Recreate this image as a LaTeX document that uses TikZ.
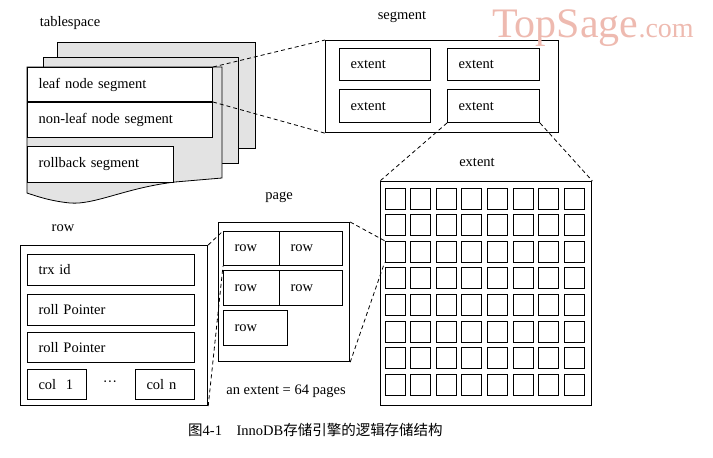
\documentclass[tikz,border=0pt]{standalone}
\usepackage{fontspec}
\setmainfont{Liberation Serif}
\newfontfamily\cjk{Noto Sans CJK SC}
\usetikzlibrary{positioning}
\definecolor{speckle}{gray}{0.89}
\definecolor{stamp}{RGB}{238,186,176}
\newcommand{\figfont}{\fontsize{14.5pt}{17pt}\selectfont}
\tikzset{
  fbox/.style={draw, line width=1pt, fill=white, anchor=north west,
    inner xsep=11pt, inner ysep=0pt, align=left, font=\figfont},
  frame/.style={draw, line width=1.2pt, anchor=north west, inner sep=0pt},
  cell/.style={draw, line width=1pt, minimum width=20pt, minimum height=21pt, inner sep=0pt},
  sheet/.style={draw, line width=0.8pt, fill=speckle},
  zoomline/.style={line width=0.8pt, dash pattern=on 4pt off 3pt},
  title/.style={font=\figfont}}
\begin{document}
\begin{tikzpicture}[x=1pt, y=-1pt]
  \useasboundingbox (0,0) rectangle (713,458);
  % tablespace
  \node[title] (tslabel) at (70,23) {tablespace};
  \draw[sheet] (57,42) rectangle (255,148);
  \draw[sheet] (43,57) rectangle (238,163);
  \draw[sheet] (27,67) -- (222,67) -- (222,178) -- (175,182)
    .. controls (125,188) and (95,205) .. (70,203)
    .. controls (50,201) and (36,196) .. (27,193) -- cycle;
  \node[fbox, text width=163pt, minimum height=34pt] (leaf) at (27,67) {leaf node segment};
  \node[fbox, text width=163pt, minimum height=35pt] (nonleaf) at (27,102) {non-leaf node segment};
  \node[fbox, text width=124pt, minimum height=36pt] (rollback) at (27,146) {rollback segment};
  % segment
  \node[title] (seglabel) at (402,17) {segment};
  \node[frame, minimum width=233pt, minimum height=92pt] (segbox) at (325,40) {};
  \node[fbox, text width=69pt, minimum height=32pt] (ext1) at (339,48) {extent};
  \node[fbox, text width=70pt, minimum height=32pt] (ext2) at (447,48) {extent};
  \node[fbox, text width=69pt, minimum height=33pt] (ext3) at (339,89) {extent};
  \node[fbox, text width=70pt, minimum height=33pt] (ext4) at (447,89) {extent};
  % extent
  \node[title] (extlabel) at (477,162) {extent};
  \node[frame, line width=1.4pt, minimum width=211pt, minimum height=224pt] (bigbox) at (380,181) {};
  \foreach \i in {1,...,8}
    \foreach \j in {1,...,8}
      \node[cell] (sq-\i-\j) at ({395+25.6*(\j-1)},{198.5+26.6*(\i-1)}) {};
  % page
  \node[title] (pagelabel) at (279,197) {page};
  \node[frame, minimum width=131pt, minimum height=139pt] (pagebox) at (218,222) {};
  \node[fbox, text width=34pt, minimum height=34pt] (rowA) at (223,231) {row};
  \node[fbox, text width=41pt, minimum height=34pt] (rowB) at (279,231) {row};
  \node[fbox, text width=34pt, minimum height=35pt] (rowC) at (223,270) {row};
  \node[fbox, text width=41pt, minimum height=35pt] (rowD) at (279,270) {row};
  \node[fbox, text width=42pt, minimum height=35pt] (rowE) at (223,310) {row};
  \node[title] (note) at (286,391) {an extent = 64 pages};
  % row
  \node[title] (rowlabel) at (63,228) {row};
  \node[frame, minimum width=187pt, minimum height=160pt] (rowbox) at (20,245) {};
  \node[fbox, text width=145pt, minimum height=31pt] (trx) at (27,254) {trx id};
  \node[fbox, text width=145pt, minimum height=31pt] (roll1) at (27,294) {roll Pointer};
  \node[fbox, text width=145pt, minimum height=30pt] (roll2) at (27,332) {roll Pointer};
  \node[fbox, text width=37pt, minimum height=30pt] (col1) at (27,369) {col\ \ 1};
  \node[fbox, text width=37pt, minimum height=30pt] (coln) at (135,369) {col n};
  \node[title, inner sep=0pt] (dots) at (110,384)
    {\textperiodcentered\textperiodcentered\textperiodcentered};
  % zoom lines
  \draw[zoomline] (leaf.north east) -- (segbox.north west);
  \draw[zoomline] (leaf.south east) -- (segbox.south west);
  \draw[zoomline] (ext4.south west) -- (bigbox.north west);
  \draw[zoomline] (ext4.south east) -- (bigbox.north east);
  \draw[zoomline] (pagebox.north east) -- (sq-3-1.north west);
  \draw[zoomline] (pagebox.south east) -- (sq-3-1.south west);
  \draw[zoomline] (rowbox.north east) -- (rowA.north west);
  \draw[zoomline] (rowbox.south east) -- (rowA.south west);
  % watermark and caption
  \node[anchor=base west, text=stamp, inner sep=0pt] (mark) at (492,37)
    {\fontsize{42pt}{42pt}\selectfont TopSage{\fontsize{28pt}{28pt}\selectfont .com}};
  \node[anchor=west, font=\figfont, inner sep=0pt] (caption) at (188,430)
    {{\cjk 图}4-1\quad InnoDB{\cjk 存储引擎的逻辑存储结构}};
\end{tikzpicture}
\end{document}
